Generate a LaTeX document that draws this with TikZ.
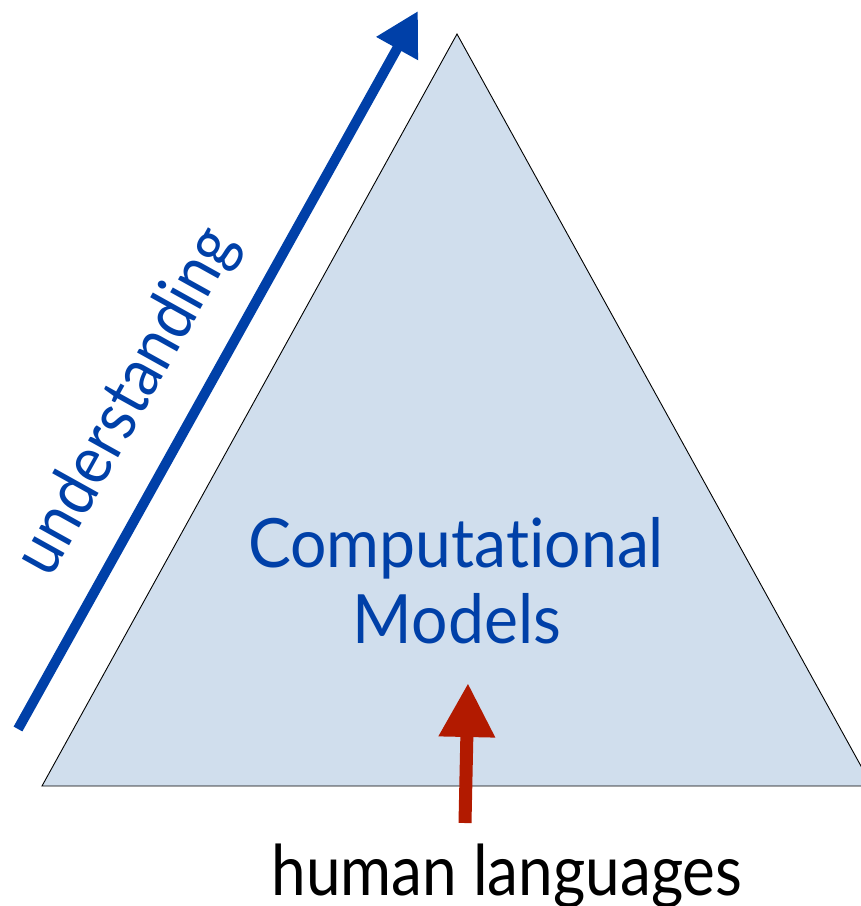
\documentclass[tikz,border=0pt]{standalone}
\usepackage{fontspec}
\setmainfont{Lato}[Ligatures=NoCommon]
\usetikzlibrary{arrows.meta}
\definecolor{modelblue}{RGB}{0,64,168}
\definecolor{langred}{RGB}{178,26,0}
\definecolor{paleblue}{RGB}{208,222,237}
\newcommand{\narrow}[2]{\scalebox{#1}[1]{#2}}
\tikzset{
  bigtext/.style={inner sep=0pt, font=\fontsize{68}{80}\selectfont},
  uparrow/.style={line width=10pt, draw=modelblue, -{Triangle[length=43pt,width=45pt]}},
  langarrow/.style={line width=13pt, draw=langred, -{Triangle[length=54pt,width=53pt]}}
}
\begin{document}
\begin{tikzpicture}[x=1pt,y=-1pt]
  \useasboundingbox (0,0) rectangle (861,906);
  \clip (0,0) rectangle (861,906);
  % the triangle
  \coordinate (apex) at (457,34);
  \coordinate (bl) at (42,786);
  \coordinate (br) at (872,786);
  \draw[fill=paleblue, draw=black, line width=0.9pt, line join=miter] (apex) -- (br) -- (bl) -- cycle;
  % label inside
  \node[bigtext, text=modelblue, anchor=base] (comp) at (456,567) {\narrow{0.945}{Computational}};
  \node[bigtext, text=modelblue, anchor=base] (mod) at (457,643) {\narrow{0.945}{Models}};
  % understanding arrow
  \coordinate (utail) at (18,729);
  \coordinate (utip) at (418,11);
  \draw[uparrow] (utail) -- (utip);
  \node[bigtext, text=modelblue, rotate=60.9] (und) at (128,402) {\narrow{0.9}{understanding}};
  % human languages arrow
  \node[bigtext, text=black, anchor=base, font=\fontsize{70}{80}\selectfont] (hum) at (507,895) {\narrow{0.886}{human languages}};
  \coordinate (htail) at (465,823);
  \coordinate (htip) at (468,683);
  \draw[langarrow] (htail) -- (htip);
\end{tikzpicture}
\end{document}
